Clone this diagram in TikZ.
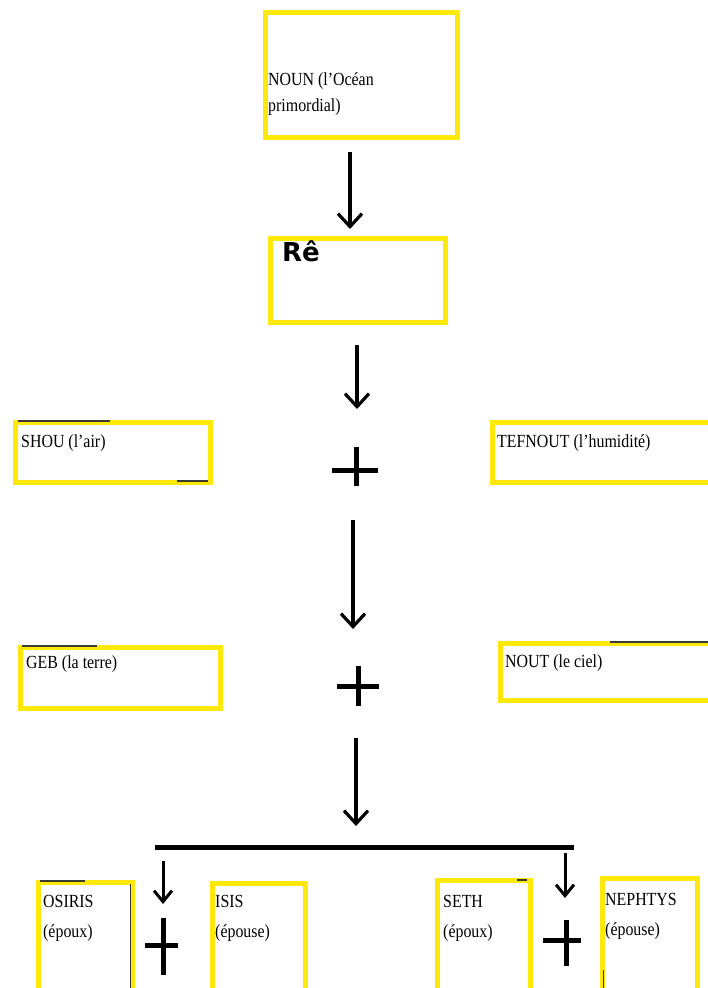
\documentclass[tikz,border=0pt]{standalone}
\usepackage{fontspec}
\setmainfont{Liberation Serif}[FakeStretch=0.86]
\newfontfamily\reefont{DejaVu Sans}
\usetikzlibrary{arrows.meta}
\definecolor{boxyellow}{HTML}{FFE90A}
\definecolor{darkline}{HTML}{3A3A30}
\tikzset{
  ybox/.style={draw=boxyellow, line width=5pt, inner sep=0pt, outer sep=0pt, anchor=north west},
  lbl/.style={anchor=base west, inner sep=0pt, font=\fontsize{18.5}{22}\selectfont},
  darrow/.style={line width=3.2pt, -{Straight Barb[length=13pt,width=24pt,line width=3.2pt]}},
  sarrow/.style={line width=3pt, -{Straight Barb[length=11pt,width=18pt,line width=3pt]}},
  plusline/.style={line width=5pt},
  artifact/.style={draw=darkline, line width=1.6pt}
}
\begin{document}
\begin{tikzpicture}[x=1pt,y=-1pt]
\useasboundingbox (0,0) rectangle (708,988);
\fill[white] (0,0) rectangle (708,988);

% boxes
\node[ybox, minimum width=192pt, minimum height=125pt] (noun) at (265,12) {};
\node[ybox, minimum width=175pt, minimum height=84pt] (re) at (270,238) {};
\node[ybox, minimum width=195pt, minimum height=60pt] (shou) at (15,422) {};
\node[ybox, minimum width=225pt, minimum height=60pt] (tef) at (492,422) {};
\node[ybox, minimum width=200pt, minimum height=61pt] (geb) at (20,647) {};
\node[ybox, minimum width=215pt, minimum height=57pt] (nout) at (500,643) {};
\node[ybox, minimum width=94pt, minimum height=115pt] (osiris) at (38,882) {};
\node[ybox, minimum width=93pt, minimum height=115pt] (isis) at (212,883) {};
\node[ybox, minimum width=93pt, minimum height=115pt] (seth) at (437,880) {};
\node[ybox, minimum width=95pt, minimum height=115pt] (neph) at (602,878) {};

% small dark artefact lines on boxes
\draw[artifact] (18,421) -- (110,421);
\draw[artifact] (177,481) -- (208,481);
\draw[artifact] (22,646) -- (97,646);
\draw[artifact] (610,642) -- (708,642);
\draw[artifact] (40,881) -- (85,881);
\draw[artifact, line width=1pt] (130,884) -- (130,988);
\draw[artifact] (517,880) -- (527,880);
\draw[artifact, line width=1pt] (603,970) -- (603,988);

% texts
\node[lbl] (tnoun1) at (268,85) {NOUN (l’Océan};
\node[lbl] (tnoun2) at (268,111) {primordial)};
\node[anchor=north west, inner sep=0pt, font=\reefont\bfseries\fontsize{26}{28}\selectfont] (tre) at (282,241) {Rê};
\node[lbl] (tshou) at (21,447) {SHOU (l’air)};
\node[lbl] (ttef) at (497,447) {TEFNOUT (l’humidité)};
\node[lbl] (tgeb) at (26,668) {GEB (la terre)};
\node[lbl] (tnout) at (505,667) {NOUT (le ciel)};
\node[lbl] (tosi1) at (43,907) {OSIRIS};
\node[lbl] (tosi2) at (43,937) {(époux)};
\node[lbl] (tisis1) at (215,907) {ISIS};
\node[lbl] (tisis2) at (215,937) {(épouse)};
\node[lbl] (tseth1) at (443,907) {SETH};
\node[lbl] (tseth2) at (443,937) {(époux)};
\node[lbl] (tneph1) at (605,905) {NEPHTYS};
\node[lbl] (tneph2) at (605,935) {(épouse)};

% arrow coordinates
\coordinate (a1s) at (350,152); \coordinate (a1e) at (350,229);
\coordinate (a2s) at (357,345); \coordinate (a2e) at (357,409);
\coordinate (a3s) at (353,520); \coordinate (a3e) at (353,629);
\coordinate (a4s) at (356,738); \coordinate (a4e) at (356,826);
\coordinate (a5s) at (163,861); \coordinate (a5e) at (163,904);
\coordinate (a6s) at (565,853); \coordinate (a6e) at (565,898);
\coordinate (barL) at (155,847); \coordinate (barR) at (574,847);

\draw[darrow] (a1s) -- (a1e);
\draw[darrow] (a2s) -- (a2e);
\draw[darrow] (a3s) -- (a3e);
\draw[darrow] (a4s) -- (a4e);
\draw[sarrow] (a5s) -- (a5e);
\draw[sarrow] (a6s) -- (a6e);
\draw[line width=5pt] (barL) -- (barR);

% plus signs
\draw[plusline] (332,470) -- (378,470) (356,447) -- (356,486);
\draw[plusline] (337,686) -- (379,686) (358,666) -- (358,706);
\draw[plusline] (145,945) -- (178,945) (163,918) -- (163,975);
\draw[plusline] (543,940) -- (581,940) (566,920) -- (566,966);
\end{tikzpicture}
\end{document}
